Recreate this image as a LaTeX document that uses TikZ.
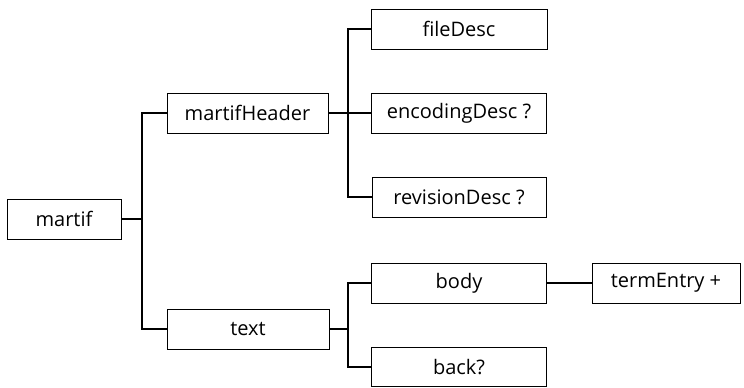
\documentclass[tikz,border=0pt]{standalone}
\usepackage{fontspec}
\setmainfont{Open Sans}
\begin{document}
\begin{tikzpicture}[x=1pt,y=-1pt,
  box/.style={draw=black,line width=0.7pt,minimum height=40pt,inner sep=0pt,font=\fontsize{20}{22}\selectfont},
  conn/.style={draw=black,line width=1.2pt}]
\useasboundingbox (0,0) rectangle (744,388);
\node[box,minimum width=114pt] (martif) at (64,219) {martif};
\node[box,minimum width=161pt] (mh) at (247.5,113) {martifHeader};
\node[box,minimum width=162pt] (txt) at (248,329) {text};
\node[box,minimum width=176pt] (fd) at (459,29) {fileDesc};
\node[box,minimum width=175pt] (ed) at (459,113) {encodingDesc ?};
\node[box,minimum width=174pt] (rd) at (459,197) {revisionDesc ?};
\node[box,minimum width=175pt] (body) at (459,283) {body};
\node[box,minimum width=175pt,minimum height=39pt] (back) at (459,367) {back?};
\node[box,minimum width=148pt] (te) at (666,283) {termEntry +};
\coordinate (j1) at (142,219);
\coordinate (j2) at (348,113);
\coordinate (j3) at (348,329);
\draw[conn] (martif.east) -- (j1);
\draw[conn] (mh.west) -| (j1) |- (txt.west);
\draw[conn] (mh.east) -- (ed.west);
\draw[conn] (fd.west) -| (j2) |- (rd.west);
\draw[conn] (txt.east) -- (j3);
\draw[conn] (body.west) -| (j3) |- (back.west);
\draw[conn] (body.east) -- (te.west);
\end{tikzpicture}
\end{document}
